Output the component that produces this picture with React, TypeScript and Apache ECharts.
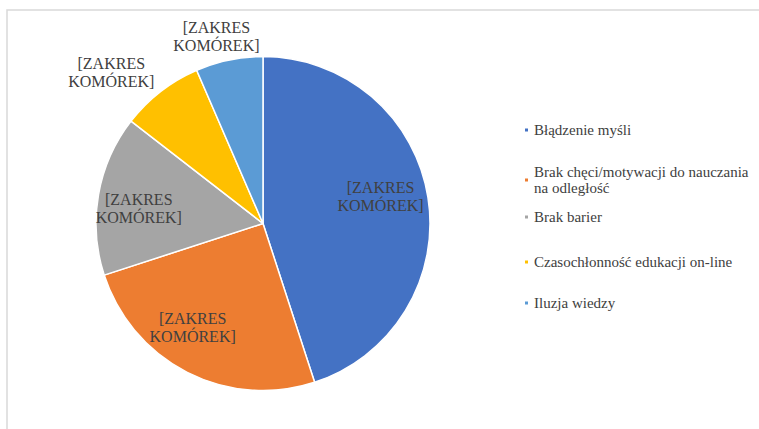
import React, { useEffect, useRef } from "react";
import * as echarts from "echarts";

const categories = [
  "Błądzenie myśli",
  "Brak chęci/motywacji do nauczania na odległość",
  "Brak barier",
  "Czasochłonność edukacji on-line",
  "Iluzja wiedzy",
];
const legendTexts = [
  "Błądzenie myśli",
  "Brak chęci/motywacji do nauczania\nna odległość",
  "Brak barier",
  "Czasochłonność edukacji on-line",
  "Iluzja wiedzy",
];
const values = [45, 25, 15.5, 8, 6.5];
const colors = ["#4472C4", "#ED7D31", "#A5A5A5", "#FFC000", "#5B9BD5"];
const sliceLabel = "[ZAKRES\nKOMÓREK]";
const insideLabelIdx = [0, 1, 2];
const outsideLabelIdx = [3, 4];

const SERIF = "'Liberation Serif', 'Times New Roman', serif";
const R = 167;
const CENTER = [263, 223.5];
const legendTops = [122, 164, 209, 254, 295];
// small label nudges (px) to mimic the original's label placement
const nudge: Record<number, { dx: number; dy: number }> = {
  0: { dx: -5, dy: -8 },
  1: { dx: -14, dy: -7 },
  2: { dx: -2, dy: 6 },
  3: { dx: -23, dy: -1 },
  4: { dx: -4, dy: 3 },
};

export default function App() {
  const ref = useRef<HTMLDivElement>(null);
  useEffect(() => {
    if (!ref.current) return;
    const chart = echarts.init(ref.current, undefined, { renderer: "svg" });
    const labelStyle = {
      color: "#404040",
      fontFamily: SERIF,
      fontSize: 16,
      lineHeight: 18,
      formatter: () => sliceLabel,
    };
    const data = categories.map((name, i) => ({
      name,
      value: values[i],
      itemStyle: { color: colors[i] },
    }));
    const overlayData = (show: number[]) =>
      categories.map((name, i) => ({
        name,
        value: values[i],
        itemStyle: { color: "transparent", borderWidth: 0 },
        label: { show: show.includes(i) },
      }));
    const layout = (p: any) => nudge[p.dataIndex] || {};
    chart.setOption({
      animation: false,
      backgroundColor: "#ffffff",
      color: colors,
      textStyle: { fontFamily: SERIF },
      graphic: [
        {
          type: "rect",
          shape: { x: 7, y: 10, width: 800, height: 500 },
          style: { fill: "none", stroke: "#d9d9d9", lineWidth: 1.5 },
          silent: true,
          z: -10,
        },
      ],
      legend: categories.map((name, i) => ({
        data: [name],
        left: 523,
        top: legendTops[i],
        padding: 0,
        selectedMode: false,
        icon: "rect",
        itemWidth: 5,
        itemHeight: 5,
        formatter: () => legendTexts[i],
        textStyle: {
          color: "#404040",
          fontFamily: SERIF,
          fontSize: 15,
          lineHeight: 16,
        },
      })),
      series: [
        {
          type: "pie",
          center: CENTER,
          radius: [0, R],
          startAngle: 90,
          clockwise: true,
          silent: true,
          label: { show: false },
          labelLine: { show: false },
          itemStyle: { borderColor: "#ffffff", borderWidth: 1.5 },
          data,
        },
        {
          type: "pie",
          center: CENTER,
          radius: [0.45 * R, R],
          startAngle: 90,
          clockwise: true,
          silent: true,
          avoidLabelOverlap: false,
          legendHoverLink: false,
          label: { position: "inside", ...labelStyle },
          labelLine: { show: false },
          labelLayout: layout,
          data: overlayData(insideLabelIdx),
        },
        {
          type: "pie",
          center: [CENTER[0], CENTER[1] + 16],
          radius: [R, R + 80],
          startAngle: 90,
          clockwise: true,
          silent: true,
          avoidLabelOverlap: false,
          legendHoverLink: false,
          label: { position: "inside", ...labelStyle },
          labelLine: { show: false },
          labelLayout: layout,
          data: overlayData(outsideLabelIdx),
        },
      ],
    });
    return () => chart.dispose();
  }, []);
  return (
    <div
      ref={ref}
      style={{ position: "absolute", left: 0, top: 0, width: 759, height: 429 }}
    />
  );
}
